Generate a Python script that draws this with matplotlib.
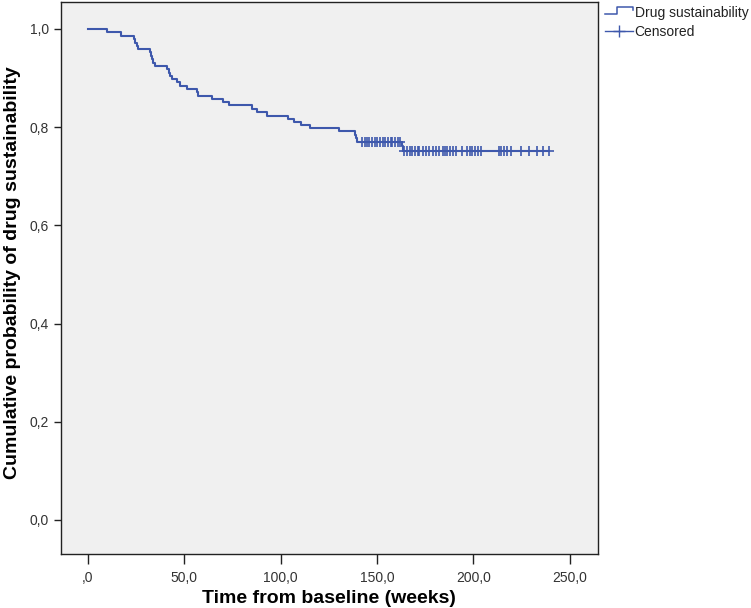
import numpy as np
import matplotlib
matplotlib.use("Agg")
import matplotlib.pyplot as plt
from matplotlib.lines import Line2D
from matplotlib.legend_handler import HandlerBase

plt.rcParams['font.family'] = ['Liberation Sans', 'DejaVu Sans']

# Kaplan-Meier steps (weeks, cumulative probability)
event_t = [0, 10.2, 17.0, 23.9, 24.5, 25.3, 26.1, 32.3, 32.7, 33.2, 33.9, 34.6,
           41.3, 42.0, 42.7, 43.4, 46.0, 47.7, 51.5, 56.4, 56.9, 64.2, 70.2,
           73.1, 85.2, 88.0, 93.0, 103.9, 106.8, 110.8, 115.1, 130.4, 138.5,
           139.0, 139.6, 163.0, 163.4]
surv = [1.0, 0.993, 0.986, 0.979, 0.972, 0.966, 0.959, 0.952, 0.945, 0.938,
        0.931, 0.925, 0.918, 0.911, 0.904, 0.898, 0.891, 0.884, 0.878, 0.871,
        0.864, 0.858, 0.851, 0.844, 0.837, 0.830, 0.823, 0.817, 0.811, 0.805,
        0.798, 0.791, 0.784, 0.777, 0.770, 0.761, 0.751]

# censored observations (weeks)
censored_t = [142.0, 143.5, 145.0, 146.0, 147.5, 149.0, 150.0, 151.5, 153.0,
              154.0, 155.5, 157.0, 158.0, 159.5, 161.0, 162.0,
              164.0, 165.5, 167.0, 168.0, 169.5, 171.0, 172.0, 174.0, 175.5,
              177.0, 179.0, 180.5, 182.0, 184.0, 185.0, 186.5, 188.0, 189.5,
              191.0, 194.0, 196.5, 198.0, 199.5, 201.0, 202.5, 204.0, 213.0,
              214.5, 216.0, 217.5, 219.5, 224.5, 229.0, 233.0, 236.0, 239.0]

xticks = [0, 50, 100, 150, 200, 250]
xtick_labels = [',0', '50,0', '100,0', '150,0', '200,0', '250,0']
yticks = [0.0, 0.2, 0.4, 0.6, 0.8, 1.0]
ytick_labels = ['0,0', '0,2', '0,4', '0,6', '0,8', '1,0']

blue = '#3e58ac'


class StepHandler(HandlerBase):
    def create_artists(self, legend, orig_handle, xdescent, ydescent,
                       width, height, fontsize, trans):
        x = np.array([0, 0.45, 0.45, 1.0, 1.0]) * width - xdescent
        y = np.array([0.35, 0.35, 1.0, 1.0, 0.75]) * height - ydescent
        ln = Line2D(x, y, color=blue, lw=1.1, transform=trans)
        return [ln]


fig = plt.figure(figsize=(7.51, 6.08), dpi=100)
ax = fig.add_axes([0.081, 0.089, 0.715, 0.908])
ax.set_facecolor('#f0f0f0')

et = np.array(event_t + [max(censored_t)])
sv = np.array(surv + [surv[-1]])
ax.step(et, sv, where='post', color=blue, lw=1.5)

ct = np.array(censored_t)
idx = np.searchsorted(np.array(event_t), ct, side='right') - 1
cs = np.array(surv)[idx]
ax.plot(ct, cs, linestyle='none', marker='+', color=blue, ms=7, mew=1.2)

ax.set_xlim(-14, 264.5)
ax.set_ylim(-0.069, 1.055)
ax.set_xticks(xticks)
ax.set_xticklabels(xtick_labels)
ax.set_yticks(yticks)
ax.set_yticklabels(ytick_labels)
ax.tick_params(axis='both', direction='out', length=5, width=1, color='#222222',
               labelsize=10, labelcolor='#333333')
ax.tick_params(axis='x', length=7, pad=5)
for s in ax.spines.values():
    s.set_color('#222222')
    s.set_linewidth(1.0)

ax.set_xlabel('Time from baseline (weeks)', fontsize=14, fontweight='bold',
              labelpad=4)
ax.set_ylabel('Cumulative probability of drug sustainability', fontsize=14,
              fontweight='bold')
ax.yaxis.set_label_coords(-0.074, 0.51)

h1 = Line2D([], [], color=blue)
h2 = Line2D([], [], color=blue, marker='+', ms=9, mew=1.0, lw=1.0)
leg = ax.legend([h1, h2], ['Drug sustainability', 'Censored'],
                handler_map={h1: StepHandler()},
                loc='upper left', bbox_to_anchor=(1.0, 1.005),
                frameon=False, fontsize=10, handlelength=2.0,
                handletextpad=0.15, labelspacing=0.35, borderaxespad=0.4,
                borderpad=0.1)
for t in leg.get_texts():
    t.set_color('#222222')

fig.savefig('out.png', dpi=100)
